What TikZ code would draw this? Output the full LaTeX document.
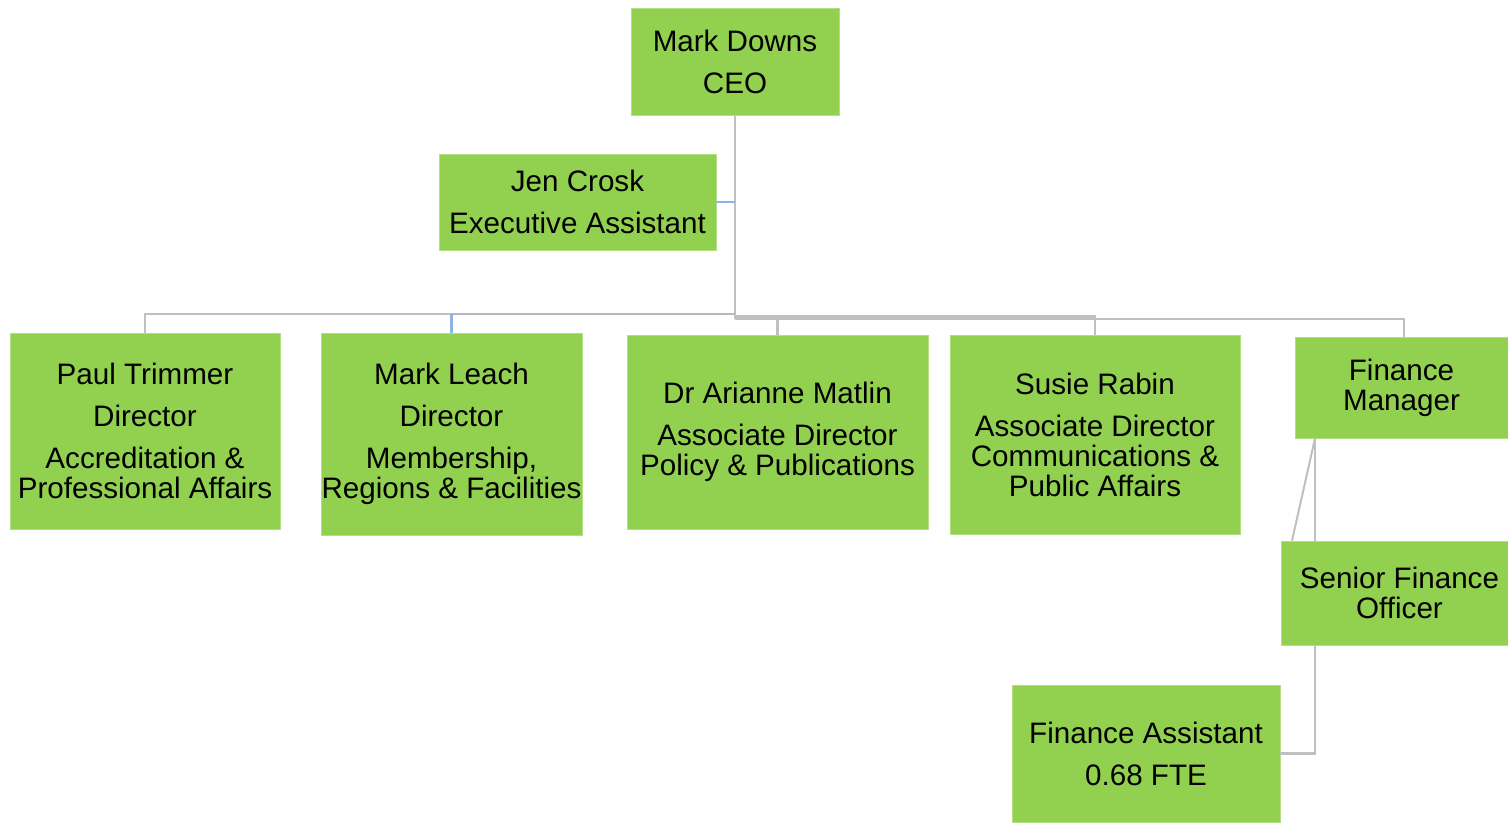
\documentclass[tikz,border=0pt]{standalone}
\usepackage{fontspec}
\setmainfont{Liberation Sans}
\definecolor{boxgreen}{HTML}{92D050}
\definecolor{linegray}{HTML}{C0C0C0}
\definecolor{linedark}{HTML}{B4B8BC}
\definecolor{lineblue}{HTML}{8EB4E3}
\begin{document}
\begin{tikzpicture}[x=1pt,y=-1pt,
  box/.style={fill=boxgreen, draw=boxgreen!70!white, line width=0.8pt, inner sep=0pt, align=center, font=\fontsize{29.6}{30}\selectfont},
  conn/.style={draw=linegray, line width=2.7pt},
]
\useasboundingbox[fill=white] (0,0) rectangle (1508,823);
\node[box, minimum width=208pt, minimum height=107pt] (ceo) at (735,61.5) {Mark Downs\\[12pt]CEO};
\node[box, minimum width=277pt, minimum height=96pt] (jen) at (577.5,202) {Jen Crosk\\[12pt]Executive Assistant};
\node[box, minimum width=270pt, minimum height=196pt] (paul) at (145,431) {Paul Trimmer\\[12pt]Director\\[12pt]Accreditation \&\\Professional Affairs};
\node[box, minimum width=261pt, minimum height=202pt] (leach) at (451.5,434) {Mark Leach\\[12pt]Director\\[12pt]Membership,\\Regions \& Facilities};
\node[box, minimum width=301pt, minimum height=194pt] (matlin) at (777.5,432) {Dr Arianne Matlin\\[12pt]Associate Director\\Policy \& Publications};
\node[box, minimum width=290pt, minimum height=199pt] (rabin) at (1095,434.5) {Susie Rabin\\[12pt]Associate Director\\Communications \&\\Public Affairs};
\node[box, minimum width=213pt, minimum height=101pt] (finmgr) at (1401.5,387.5) {Finance\\Manager};
\node[box, minimum width=227pt, minimum height=104pt] (sfo) at (1394.5,593) {\hspace*{10pt}Senior Finance\\\hspace*{10pt}Officer};
\node[box, minimum width=268pt, minimum height=137pt] (finass) at (1146,753.5) {Finance Assistant\\[12pt]0.68 FTE};

\coordinate (busA) at (735,314);
\coordinate (busB) at (735,316.5);
\coordinate (busC) at (735,319);
\coordinate (fx) at (1315,0);
\coordinate (dx) at (1292,0);
\coordinate (fmx) at (1404,0);

\draw[conn] (ceo.south) -- (ceo.south |- busC);
\draw[conn, draw=lineblue] (jen.east) -- (jen.east -| ceo.south);
\draw[conn] (paul.north) -- (paul.north |- busA) -- (leach.north |- busA);
\draw[conn, draw=linedark] (leach.north |- busA) -- (busA);
\draw[conn, draw=lineblue] (leach.north) -- (leach.north |- busA);
\draw[conn] (busB) -- (rabin.north |- busB) -- (rabin.north);
\draw[conn] (matlin.north) -- (matlin.north |- busB);
\draw[conn] (busC) -- (fmx |- busC) -- (finmgr.north -| fmx);
\draw[conn] (finmgr.south -| fx) -- (sfo.north -| fx);
\draw[conn, line width=2pt] (finmgr.south -| fx) -- (sfo.north -| dx);
\draw[conn] (sfo.south -| fx) -- (fx |- finass.east) -- (finass.east);
\end{tikzpicture}
\end{document}
